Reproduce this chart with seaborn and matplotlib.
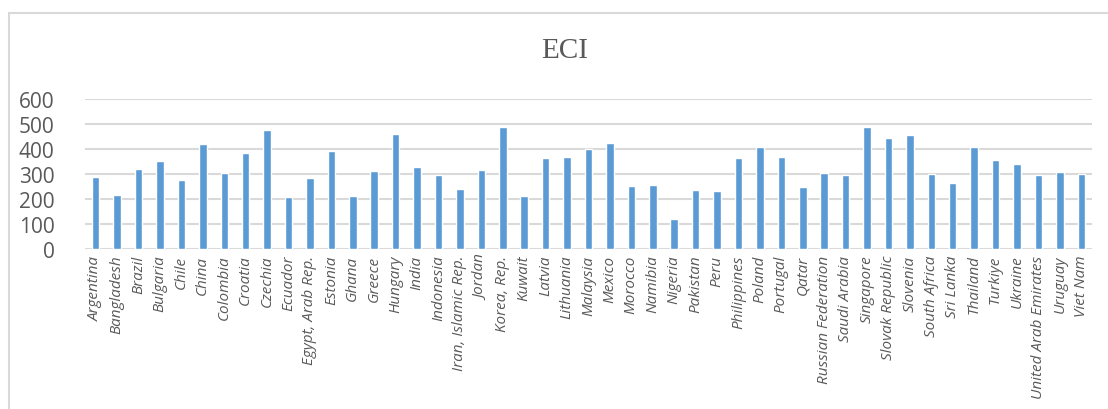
import matplotlib
matplotlib.use("Agg")
import matplotlib.pyplot as plt
import seaborn as sns
import pandas as pd
from matplotlib.patches import Rectangle

# Data
countries = [
    "Argentina", "Bangladesh", "Brazil", "Bulgaria", "Chile", "China", "Colombia",
    "Croatia", "Czechia", "Ecuador", "Egypt, Arab Rep.", "Estonia", "Ghana", "Greece",
    "Hungary", "India", "Indonesia", "Iran, Islamic Rep.", "Jordan", "Korea, Rep.",
    "Kuwait", "Latvia", "Lithuania", "Malaysia", "Mexico", "Morocco", "Namibia",
    "Nigeria", "Pakistan", "Peru", "Philippines", "Poland", "Portugal", "Qatar",
    "Russian Federation", "Saudi Arabia", "Singapore", "Slovak Republic", "Slovenia",
    "South Africa", "Sri Lanka", "Thailand", "Turkiye", "Ukraine",
    "United Arab Emirates", "Uruguay", "Viet Nam",
]
eci = [
    288, 216, 321, 353, 276, 419, 304,
    384, 475, 207, 283, 391, 213, 313,
    461, 327, 296, 240, 317, 489,
    211, 363, 368, 399, 424, 251, 257,
    121, 236, 231, 365, 409, 368, 248,
    304, 297, 487, 444, 455,
    301, 264, 407, 355, 339,
    297, 307, 299,
]
y_ticks = [0, 100, 200, 300, 400, 500, 600]

df = pd.DataFrame({"Country": countries, "ECI": eci})

sns.set_style("white")
text_color = "#595959"
grid_color = "#d9d9d9"

fig = plt.figure(figsize=(11.08, 4.10), dpi=100)
ax = fig.add_axes([85 / 1108, 1 - 250 / 410, (1092 - 85) / 1108, 150 / 410])

sns.barplot(data=df, x="Country", y="ECI", color="#5B9BD5", width=0.35,
            saturation=1, ax=ax, zorder=3)

ax.set_ylim(0, 600)
ax.set_xlim(-0.5, len(countries) - 0.5)
ax.set_yticks(y_ticks)
ax.set_yticklabels([str(v) for v in y_ticks], fontsize=15, color=text_color,
                   family="Open Sans")
ax.set_xticks(range(len(countries)))
ax.set_xticklabels(countries, rotation=90, fontsize=11, color=text_color,
                   family="Open Sans", style="italic", ha="center", va="top")
ax.tick_params(axis="y", length=0, pad=22)
ax.tick_params(axis="x", length=0, pad=4)
ax.set_xlabel("")
ax.set_ylabel("")

for v in y_ticks:
    ax.axhline(v, color=grid_color, lw=1.5, zorder=1)
for s in ax.spines.values():
    s.set_visible(False)

fig.text(565 / 1108, 1 - 51 / 410, "ECI", fontsize=21, color=text_color,
         family="Liberation Serif", ha="center", va="center")

# Chart area border
fig.patches.append(Rectangle((9 / 1108, -0.1), 1.2, 1 - 14 / 410 + 0.1,
                             transform=fig.transFigure, fill=False,
                             edgecolor=grid_color, lw=1.5))

fig.savefig("out.png", dpi=100)
